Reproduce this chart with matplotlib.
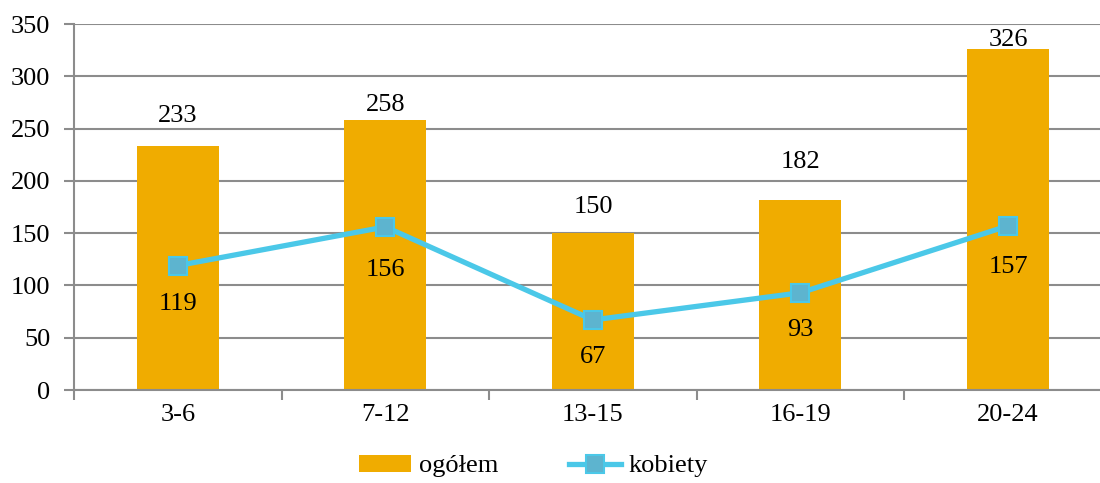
import numpy as np
import matplotlib
matplotlib.use("Agg")
import matplotlib.pyplot as plt

plt.rcParams['font.family'] = ['Liberation Serif', 'DejaVu Serif']

categories = ["3-6", "7-12", "13-15", "16-19", "20-24"]
ogolem = [233, 258, 150, 182, 326]
kobiety = [119, 156, 67, 93, 157]

# label offsets (points) as placed in the original
bar_lbl_off = [22, 11, 19, 27, 6.5]
line_lbl_off = [28, 31, 27, 27, 29.5]

fs = 19
fig = plt.figure(figsize=(11, 4.83), dpi=100)
ax = fig.add_axes([0.0673, 0.1925, 0.9327, 0.7578])

x = np.arange(len(categories))
grid_color = "#8c8c8c"

bars = ax.bar(x, ogolem, width=0.395, color="#F0AC00", zorder=2, label="ogółem")
line, = ax.plot(x, kobiety, color="#4BC8E8", lw=3.8, marker="s", markersize=13,
                markerfacecolor="#5DB4CF", markeredgecolor="#4BC8E8", markeredgewidth=1.5,
                zorder=3, label="kobiety")

for xi, v, o in zip(x, ogolem, bar_lbl_off):
    ax.annotate(str(v), (xi, v), xytext=(0, o), textcoords="offset points",
                ha="center", va="center", fontsize=fs, zorder=4)
for xi, v, o in zip(x, kobiety, line_lbl_off):
    ax.annotate(str(v), (xi, v), xytext=(0, -o), textcoords="offset points",
                ha="center", va="center", fontsize=fs, zorder=4)

ax.set_xlim(-0.5, 4.443)
ax.set_ylim(0, 350)
ax.set_yticks(range(0, 351, 50))
ax.set_xticks(x)
ax.set_xticklabels(categories)
ax.set_xticks(np.arange(-0.5, 4.5, 1), minor=True)
ax.tick_params(axis="x", which="major", length=0, pad=10, labelsize=fs)
ax.tick_params(axis="x", which="minor", length=7, width=1.5, color=grid_color)
ax.tick_params(axis="y", length=7, width=1.5, color=grid_color, pad=10, labelsize=fs)

ax.grid(axis="y", color=grid_color, lw=1.5, zorder=0)
for s in ["top", "right"]:
    ax.spines[s].set_visible(False)
for s in ["left", "bottom"]:
    ax.spines[s].set_color(grid_color)
    ax.spines[s].set_linewidth(1.5)

fig.legend([bars, line], ["ogółem", "kobiety"], loc="center",
           bbox_to_anchor=(0.485, 0.035), ncol=2, frameon=False,
           fontsize=fs, handlelength=1.95, handleheight=0.6, handletextpad=0.3,
           columnspacing=2.7)

fig.savefig("out.png", dpi=100)
